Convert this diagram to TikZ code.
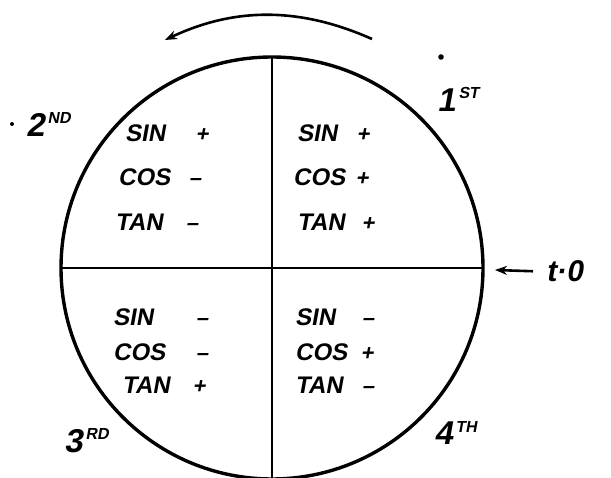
\documentclass[tikz,border=0pt]{standalone}
\usepackage{fontspec}
\usepackage{tikz}
\usetikzlibrary{arrows.meta}
\newfontfamily\hand{Liberation Sans Bold}[FakeSlant=0.18]
\newcommand{\ord}[2]{{\fontsize{33}{33}\selectfont #1}\hspace{3pt}\raisebox{13pt}{\fontsize{16}{16}\selectfont #2}}

\begin{document}
\begin{tikzpicture}[x=1pt,y=-1pt,
  fn/.style={anchor=west,inner sep=0pt,font=\hand\fontsize{24}{24}\selectfont},
  sg/.style={anchor=base,yshift=-8.5pt,inner sep=0pt,font=\hand\fontsize{22}{22}\selectfont},
  num/.style={anchor=base west,inner sep=0pt,font=\hand},
  diam/.style={line width=2.8pt},
  arrowline/.style={line width=2.6pt,-{Stealth[length=12pt,width=9pt]}}]

\useasboundingbox (0,0) rectangle (611,478);

\node[draw,circle,line width=3.4pt,minimum size=422pt,inner sep=0pt,outer sep=0pt] (c) at (272,268) {};
\draw[diam] (c.north) -- (c.south);
\draw[diam] (c.west) -- (c.east);

% rotation
\coordinate (rotstart) at (372,39);
\coordinate (rotend) at (165,40);
\draw[arrowline] (rotstart) .. controls (300,7) and (235,7) .. (rotend);

% t = 0
\node[anchor=base west,inner sep=0pt,font=\hand\fontsize{30}{30}\selectfont] (t0) at (546,282) {t·0};
\coordinate (t0tip) at (495,270);
\draw[arrowline,shorten <=13pt] (t0.west) -- (t0tip);

% quadrant numbers
\fill (441,57) circle (2.8pt);
\fill (12,124) circle (2pt);
\node[num] (n1) at (437,112) {\ord{1}{ST}};
\node[num] (n2) at (26,137) {\ord{2}{ND}};
\node[num] (n3) at (64,453) {\ord{3}{RD}};
\node[num] (n4) at (434,445) {\ord{4}{TH}};

% 1st
\node[fn] (q1sin) at (297,133) {SIN};
\node[fn] (q1cos) at (293,177) {COS};
\node[fn] (q1tan) at (297,222) {TAN};
\node[sg] (q1sinsg) at (363,133) {+};
\node[sg] (q1cossg) at (362,177) {+};
\node[sg] (q1tansg) at (368,222) {+};

% 2nd
\node[fn] (q2sin) at (125,133) {SIN};
\node[fn] (q2cos) at (118,177) {COS};
\node[fn] (q2tan) at (115,222) {TAN};
\node[sg] (q2sinsg) at (202,133) {+};
\node[sg] (q2cossg) at (195,177) {–};
\node[sg] (q2tansg) at (192,222) {–};

% 3rd
\node[fn] (q3sin) at (113,317) {SIN};
\node[fn] (q3cos) at (113,352) {COS};
\node[fn] (q3tan) at (122,385) {TAN};
\node[sg] (q3sinsg) at (202,317) {–};
\node[sg] (q3cossg) at (202,352) {–};
\node[sg] (q3tansg) at (199,385) {+};

% 4th
\node[fn] (q4sin) at (295,317) {SIN};
\node[fn] (q4cos) at (295,352) {COS};
\node[fn] (q4tan) at (295,385) {TAN};
\node[sg] (q4sinsg) at (368,317) {–};
\node[sg] (q4cossg) at (367,352) {+};
\node[sg] (q4tansg) at (368,385) {–};
\end{tikzpicture}
\end{document}
